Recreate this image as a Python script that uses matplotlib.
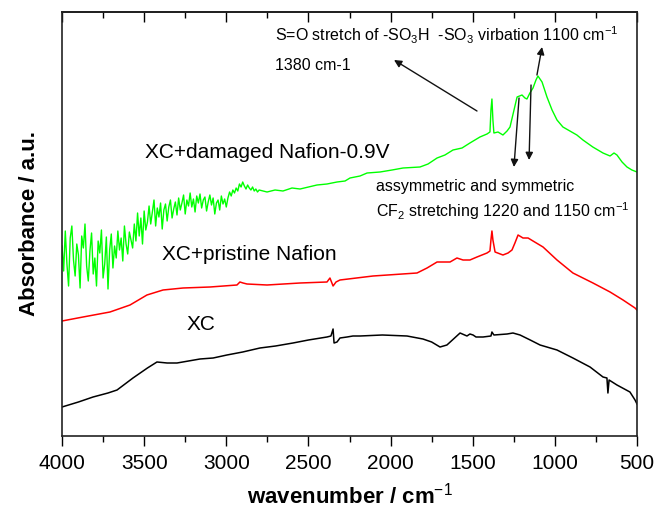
import matplotlib
matplotlib.use("Agg")
import matplotlib.pyplot as plt
from matplotlib.ticker import MultipleLocator

plt.rcParams['font.family'] = ['Liberation Sans', 'DejaVu Sans']
plt.rcParams['mathtext.fontset'] = 'custom'
plt.rcParams['mathtext.rm'] = 'Liberation Sans'
plt.rcParams['mathtext.it'] = 'Liberation Sans:italic'
plt.rcParams['mathtext.bf'] = 'Liberation Sans:bold'

# ---------------- data (arbitrary absorbance units, offset spectra) ----------------
xc_wn = [4000, 3900, 3811, 3720, 3665, 3568, 3480, 3422, 3360, 3300, 3230, 3160, 3080,
         2996, 2900, 2795, 2700, 2594, 2500, 2387, 2363, 2350, 2344, 2326, 2308, 2265,
         2229, 2186, 2050, 1900, 1803, 1750, 1699, 1657, 1577, 1535, 1517, 1498, 1480,
         1437, 1389, 1383, 1371, 1291, 1255, 1212, 1150, 1090, 987, 890, 786, 707, 683,
         677, 670, 622, 543, 512, 500]
xc_ab = [29, 34, 39, 43, 46, 58, 68, 74, 73, 73, 75, 77, 78,
         81, 84, 88, 90, 93, 96, 99, 100, 107, 93, 94, 98, 99,
         100, 100, 101, 100, 97, 94, 89, 91, 103, 100, 102, 101, 99,
         99, 100, 104, 101, 102, 103, 101, 96, 91, 86, 78, 69, 59, 58,
         43, 56, 51, 44, 36, 32]

pristine_wn = [4000, 3872, 3708, 3586, 3483, 3385, 3263, 3099, 2935, 2917, 2898, 2874,
               2752, 2551, 2387, 2369, 2350, 2332, 2308, 2107, 1839, 1778, 1717, 1638,
               1596, 1559, 1517, 1474, 1413, 1395, 1389, 1383, 1377, 1364, 1316, 1285,
               1261, 1243, 1224, 1194, 1163, 1133, 1072, 987, 890, 768, 664, 585, 512, 500]
pristine_ab = [115, 119, 124, 131, 141, 146, 148, 149, 151, 154, 153, 152,
               151, 153, 154, 158, 150, 154, 156, 160, 163, 168, 174, 174,
               178, 176, 176, 179, 183, 185, 196, 205, 196, 184, 181, 183,
               186, 193, 201, 198, 198, 195, 189, 176, 163, 153, 144, 136, 128, 126]

damaged_wn = [4000, 3990, 3980, 3970, 3960, 3950, 3940, 3930, 3920, 3910, 3900, 3890,
              3880, 3870, 3860, 3850, 3840, 3830, 3820, 3810, 3800,
              3790, 3780, 3770, 3760, 3750, 3740, 3730, 3720, 3710, 3700, 3690, 3680,
              3670, 3660, 3650, 3640, 3630, 3620, 3610, 3600, 3590, 3580, 3570,
              3560, 3550, 3540, 3530, 3520, 3510, 3500, 3490, 3480,
              3470, 3460, 3450, 3440, 3430, 3420, 3410, 3400, 3390, 3380, 3370, 3360,
              3350, 3340, 3330, 3320, 3310, 3300,
              3290, 3280, 3270, 3260, 3250, 3240, 3230, 3220, 3210, 3200, 3190, 3180,
              3170, 3160, 3150, 3140, 3130, 3120, 3110, 3100, 3090, 3080, 3070, 3060,
              3050, 3040, 3030, 3020, 3010, 3000,
              2990, 2980, 2970, 2960, 2950, 2940, 2930, 2920, 2910, 2900, 2890, 2880,
              2870, 2860, 2850, 2840, 2830, 2820, 2810, 2800,
              2752, 2703, 2655, 2600, 2551, 2448, 2387, 2326, 2277, 2247, 2186, 2143,
              2064, 1991, 1924, 1821, 1772, 1717, 1669, 1620, 1565, 1517, 1456, 1413,
              1395, 1389, 1383, 1377, 1371, 1346, 1316, 1291, 1273, 1249, 1230, 1200,
              1182, 1170, 1152, 1133, 1115, 1103, 1078, 1048, 1017, 987, 951, 908,
              866, 829, 769, 707, 664, 640, 622, 591, 561, 531, 500]
damaged_ab = [190, 165, 205, 172, 150, 198, 210, 176, 160, 192, 181, 148,
              200, 188, 212, 170, 155, 185, 203, 162, 178,
              150, 195, 183, 206, 158, 172, 199, 147, 186, 202, 168, 190,
              178, 205, 186, 198, 175, 210, 192, 182, 204, 196, 188,
              212, 195, 223, 200, 218, 192, 225, 206, 214,
              230, 212, 224, 236, 210, 228, 219, 233, 207, 226, 232, 215,
              229, 236, 218, 227, 234, 221,
              238, 226, 233, 241, 222, 236, 230, 243, 229, 237, 224, 240,
              233, 242, 228, 236, 239, 225, 234, 241, 231, 238, 222, 233,
              236, 226, 240, 232, 237, 229,
              238, 244, 240, 246, 243, 248, 245, 252, 249, 254, 250, 247,
              251, 248, 246, 249, 245, 247, 244, 246,
              244, 246, 245, 248, 247, 251, 252, 254, 255, 258, 260, 263,
              264, 266, 268, 269, 272, 278, 281, 286, 288, 293, 299, 302,
              304, 326, 337, 316, 303, 304, 301, 305, 309, 326, 339, 341,
              338, 337, 343, 348, 356, 360, 354, 339, 326, 316, 309, 305,
              301, 296, 289, 283, 280, 283, 281, 274, 269, 266, 264]

xticks = [4000, 3500, 3000, 2500, 2000, 1500, 1000, 500]

# ---------------- figure ----------------
W, H = 657, 520
fig = plt.figure(figsize=(W / 100, H / 100), dpi=100)
ax = fig.add_axes([62 / W, (H - 436) / H, (637 - 62) / W, (436 - 12) / H])

ax.plot(xc_wn, xc_ab, color='black', lw=1.1)
ax.plot(pristine_wn, pristine_ab, color='#ff0000', lw=1.1)
ax.plot(damaged_wn, damaged_ab, color='#00ff00', lw=1.0)

ax.set_xlim(4000, 500)
ax.set_ylim(0, 424)
ax.set_xticks(xticks)
ax.set_xticklabels([str(t) for t in xticks])
ax.xaxis.set_minor_locator(MultipleLocator(250))
ax.set_yticks([])
ax.tick_params(axis='x', which='major', direction='out', length=7, width=1,
               labelsize=15, pad=6, top=False)
ax.tick_params(axis='x', which='minor', direction='out', length=4, width=1, top=False)

top = ax.secondary_xaxis('top')
top.set_xticks(xticks)
top.xaxis.set_minor_locator(MultipleLocator(250))
top.tick_params(axis='x', which='major', direction='in', length=7, width=1, labeltop=False)
top.tick_params(axis='x', which='minor', direction='in', length=4, width=1)
top.spines['top'].set_linewidth(1.2)

for s in ax.spines.values():
    s.set_linewidth(1.2)
    s.set_color('#222222')

ax.set_xlabel(r'wavenumber / cm$^{-1}$', fontsize=16, fontweight='bold', labelpad=7)
ax.set_ylabel('Absorbance / a.u.', fontsize=16, fontweight='bold', labelpad=16)

# curve labels
ax.text(3495, 284, 'XC+damaged Nafion-0.9V', fontsize=15, va='center', ha='left')
ax.text(3391, 181, 'XC+pristine Nafion', fontsize=15, va='center', ha='left')
ax.text(3239, 111, 'XC', fontsize=15, va='center', ha='left')

# annotations
ax.text(2703, 401, r'S=O stretch of -SO$_3$H  -SO$_3$ virbation 1100 cm$^{-1}$',
        fontsize=11.5, va='center', ha='left')
ax.text(2703, 370, '1380 cm-1', fontsize=11.5, va='center', ha='left')
ax.text(2089, 249, 'assymmetric and symmetric', fontsize=11.5, va='center', ha='left')
ax.text(2089, 225, r'CF$_2$ stretching 1220 and 1150 cm$^{-1}$', fontsize=11.5,
        va='center', ha='left')

arrow = dict(arrowstyle='-|>', color='#111111', lw=1.0, mutation_scale=11,
             shrinkA=0, shrinkB=0)
ax.annotate('', xy=(1979, 376), xytext=(1474, 325), arrowprops=arrow)
ax.annotate('', xy=(1078, 389), xytext=(1109, 361), arrowprops=arrow)
ax.annotate('', xy=(1249, 269), xytext=(1218, 338), arrowprops=arrow)
ax.annotate('', xy=(1157, 276), xytext=(1145, 351), arrowprops=arrow)

fig.savefig('out.png', dpi=100)
